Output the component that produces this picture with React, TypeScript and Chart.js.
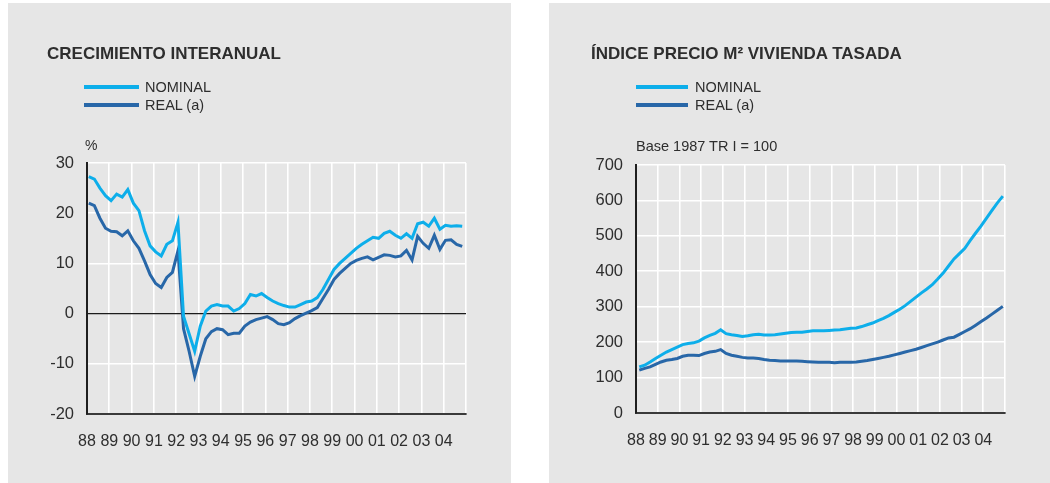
import React, { useEffect, useRef } from 'react';
import { Chart, registerables } from 'chart.js';

Chart.register(...registerables);

const FONT = '"Liberation Sans", Arial, Helvetica, sans-serif';
const NOMINAL_COLOR = '#0daeea';
const REAL_COLOR = '#2867a8';
const PANEL_BG = '#e6e6e6';
const TEXT_COLOR = '#2e2e2e';

// Quarterly series, 1988 Q1 .. 2004 Q4
const firstYear = 1988;
const lastYear = 2005;
const yearTickLabels = ['88', '89', '90', '91', '92', '93', '94', '95', '96', '97', '98', '99', '00', '01', '02', '03', '04'];

// Year-on-year growth (%)
const growthNominal = [
  27.3, 26.8, 25.0, 23.5, 22.5, 23.8, 23.2, 24.7,
  22.0, 20.5, 16.5, 13.5, 12.3, 11.5, 13.8, 14.5,
  18.2, -0.5, -4.0, -7.5, -2.5, 0.5, 1.5, 1.8,
  1.5, 1.5, 0.5, 1.0, 2.0, 3.8, 3.5, 4.0,
  3.2, 2.5, 2.0, 1.6, 1.3, 1.3, 1.8, 2.3,
  2.5, 3.2, 4.8, 6.8, 8.8, 10.0, 11.0, 12.0,
  13.0, 13.8, 14.5, 15.2, 15.0, 16.0, 16.4, 15.6,
  15.0, 15.9, 15.0, 17.9, 18.2, 17.4, 19.0, 16.8,
  17.6, 17.4, 17.5, 17.4,
];
const growthReal = [
  22.0, 21.5, 19.0, 17.0, 16.4, 16.3, 15.5, 16.5,
  14.5, 13.0, 10.5, 7.8, 6.0, 5.2, 7.2, 8.2,
  12.5, -3.0, -7.5, -12.5, -8.5, -5.0, -3.6, -3.0,
  -3.2, -4.2, -3.9, -3.9, -2.5, -1.7, -1.2, -0.9,
  -0.6, -1.2, -2.0, -2.2, -1.8, -1.0, -0.4, 0.1,
  0.6, 1.2, 3.0, 4.8, 6.8, 8.0, 9.0, 10.0,
  10.6, 11.0, 11.3, 10.7, 11.2, 11.7, 11.6, 11.3,
  11.5, 12.6, 10.7, 15.4, 14.0, 13.0, 15.6, 12.8,
  14.6, 14.7, 13.8, 13.4,
];

// Price index per m² (base 1987 Q1 = 100)
const indexNominal = [
  130, 135, 144, 154, 163, 172, 179, 186,
  193, 196, 198, 203, 212, 219, 225, 235,
  224, 221, 219, 216, 218, 221, 222, 220,
  220, 221, 223, 225, 227, 228, 228, 230,
  232, 232, 232, 233, 234, 235, 237, 239,
  240, 244, 249, 254, 261, 267, 275, 284,
  293, 303, 315, 327, 339, 350, 362, 378,
  395, 415, 435, 450, 465, 487, 508, 528,
  550, 572, 593, 612,
];
const indexReal = [
  121, 126, 130, 137, 144, 149, 151, 154,
  160, 163, 163, 162, 168, 172, 174, 179,
  168, 163, 160, 157, 155, 155, 154, 151,
  149, 148, 147, 147, 147, 147, 146, 145,
  144, 143, 143, 143, 142, 143, 143, 143,
  144, 146, 148, 151, 154, 157, 160, 164,
  168, 172, 176, 180, 185, 190, 195, 200,
  206, 212, 214, 222, 230, 238, 248, 258,
  268, 279, 290, 301,
];

const seriesLabels = ['NOMINAL', 'REAL (a)'];

type ChartSpec = {
  width: number;
  height: number;
  padding: { left: number; right: number; top: number; bottom: number };
  yMin: number;
  yMax: number;
  yStep: number;
  xShift: number;
  zeroLine: boolean;
  nominal: number[];
  real: number[];
};

const toPoints = (values: number[], shift: number) =>
  values.map((v, i) => ({ x: firstYear + i / 4 + shift, y: v }));

function LineChart({ spec }: { spec: ChartSpec }) {
  const ref = useRef<HTMLCanvasElement>(null);

  useEffect(() => {
    if (!ref.current) return;
    const chart = new Chart(ref.current, {
      type: 'line',
      data: {
        datasets: [
          {
            label: seriesLabels[0],
            data: toPoints(spec.nominal, spec.xShift),
            borderColor: NOMINAL_COLOR,
            borderWidth: 3,
            pointRadius: 0,
            tension: 0,
            fill: false,
          },
          {
            label: seriesLabels[1],
            data: toPoints(spec.real, spec.xShift),
            borderColor: REAL_COLOR,
            borderWidth: 3,
            pointRadius: 0,
            tension: 0,
            fill: false,
          },
        ],
      },
      options: {
        responsive: false,
        animation: false,
        devicePixelRatio: 1,
        layout: { padding: spec.padding },
        plugins: {
          legend: { display: false },
          title: { display: false },
          tooltip: { enabled: false },
        },
        scales: {
          x: {
            type: 'linear',
            min: firstYear,
            max: lastYear,
            afterFit: (scale: any) => {
              scale.height = 40;
            },
            ticks: {
              stepSize: 1,
              autoSkip: false,
              maxRotation: 0,
              minRotation: 0,
              padding: 18,
              color: TEXT_COLOR,
              font: { family: FONT, size: 16 },
              callback: (value: any) => yearTickLabels[Math.round(Number(value)) - firstYear] ?? '',
            },
            grid: {
              color: '#ffffff',
              lineWidth: 1.6,
              drawTicks: false,
            },
            border: { display: true, color: '#3a3a3a', width: 2 },
          },
          y: {
            type: 'linear',
            min: spec.yMin,
            max: spec.yMax,
            afterFit: (scale: any) => {
              scale.width = 40;
            },
            ticks: {
              stepSize: spec.yStep,
              padding: 13,
              color: TEXT_COLOR,
              font: { family: FONT, size: 16.5 },
            },
            grid: {
              color: (ctx: any) => (spec.zeroLine && ctx.tick && ctx.tick.value === 0 ? '#1c1c1c' : '#ffffff'),
              lineWidth: (ctx: any) => (spec.zeroLine && ctx.tick && ctx.tick.value === 0 ? 1.3 : 1.6),
              drawTicks: false,
            },
            border: { display: true, color: '#1f1f1f', width: 2 },
          },
        },
      },
    });
    return () => chart.destroy();
  }, [spec]);

  return (
    <canvas
      ref={ref}
      width={spec.width}
      height={spec.height}
      style={{ position: 'absolute', left: 0, top: 0, width: spec.width, height: spec.height }}
    />
  );
}

function Label({ left, cy, size, bold, children }: { left: number; cy: number; size: number; bold?: boolean; children: React.ReactNode }) {
  return (
    <div
      style={{
        position: 'absolute',
        left,
        top: cy - size / 2,
        height: size,
        lineHeight: `${size}px`,
        fontSize: size,
        fontFamily: FONT,
        fontWeight: bold ? 700 : 400,
        color: TEXT_COLOR,
        whiteSpace: 'nowrap',
      }}
    >
      {children}
    </div>
  );
}

function LegendKey({ left, cy, width, color }: { left: number; cy: number; width: number; color: string }) {
  return <div style={{ position: 'absolute', left, top: cy - 2, width, height: 4, background: color }} />;
}

const PANEL_HEIGHT = 480;

const growthSpec: ChartSpec = {
  width: 503,
  height: PANEL_HEIGHT,
  padding: { left: 39, right: 45, top: 160, bottom: 29 },
  yMin: -20,
  yMax: 30,
  yStep: 10,
  xShift: 0.08,
  zeroLine: true,
  nominal: growthNominal,
  real: growthReal,
};

const indexSpec: ChartSpec = {
  width: 501,
  height: PANEL_HEIGHT,
  padding: { left: 47, right: 45, top: 162, bottom: 30 },
  yMin: 0,
  yMax: 700,
  yStep: 100,
  xShift: 0.15,
  zeroLine: false,
  nominal: indexNominal,
  real: indexReal,
};

export default function App() {
  return (
    <div style={{ position: 'fixed', left: 0, top: 0, width: 1050, height: 483, background: '#ffffff', overflow: 'hidden' }}>
      <div style={{ position: 'absolute', left: 8, top: 3, width: 503, height: PANEL_HEIGHT, background: PANEL_BG }}>
        <LineChart spec={growthSpec} />
        <Label left={39} cy={50} size={17} bold>
          CRECIMIENTO INTERANUAL
        </Label>
        <LegendKey left={76} cy={84} width={55} color={NOMINAL_COLOR} />
        <LegendKey left={76} cy={102} width={55} color={REAL_COLOR} />
        <Label left={137} cy={84} size={14.5}>
          {seriesLabels[0]}
        </Label>
        <Label left={137} cy={102} size={14.5}>
          {seriesLabels[1]}
        </Label>
        <Label left={77} cy={142} size={14}>
          %
        </Label>
      </div>
      <div style={{ position: 'absolute', left: 549, top: 3, width: 501, height: PANEL_HEIGHT, background: PANEL_BG }}>
        <LineChart spec={indexSpec} />
        <Label left={42} cy={50} size={17} bold>
          ÍNDICE PRECIO M² VIVIENDA TASADA
        </Label>
        <LegendKey left={87} cy={84} width={52} color={NOMINAL_COLOR} />
        <LegendKey left={87} cy={102} width={52} color={REAL_COLOR} />
        <Label left={146} cy={84} size={14.5}>
          {seriesLabels[0]}
        </Label>
        <Label left={146} cy={102} size={14.5}>
          {seriesLabels[1]}
        </Label>
        <Label left={87} cy={143} size={14.5}>
          Base 1987 TR I = 100
        </Label>
      </div>
    </div>
  );
}
